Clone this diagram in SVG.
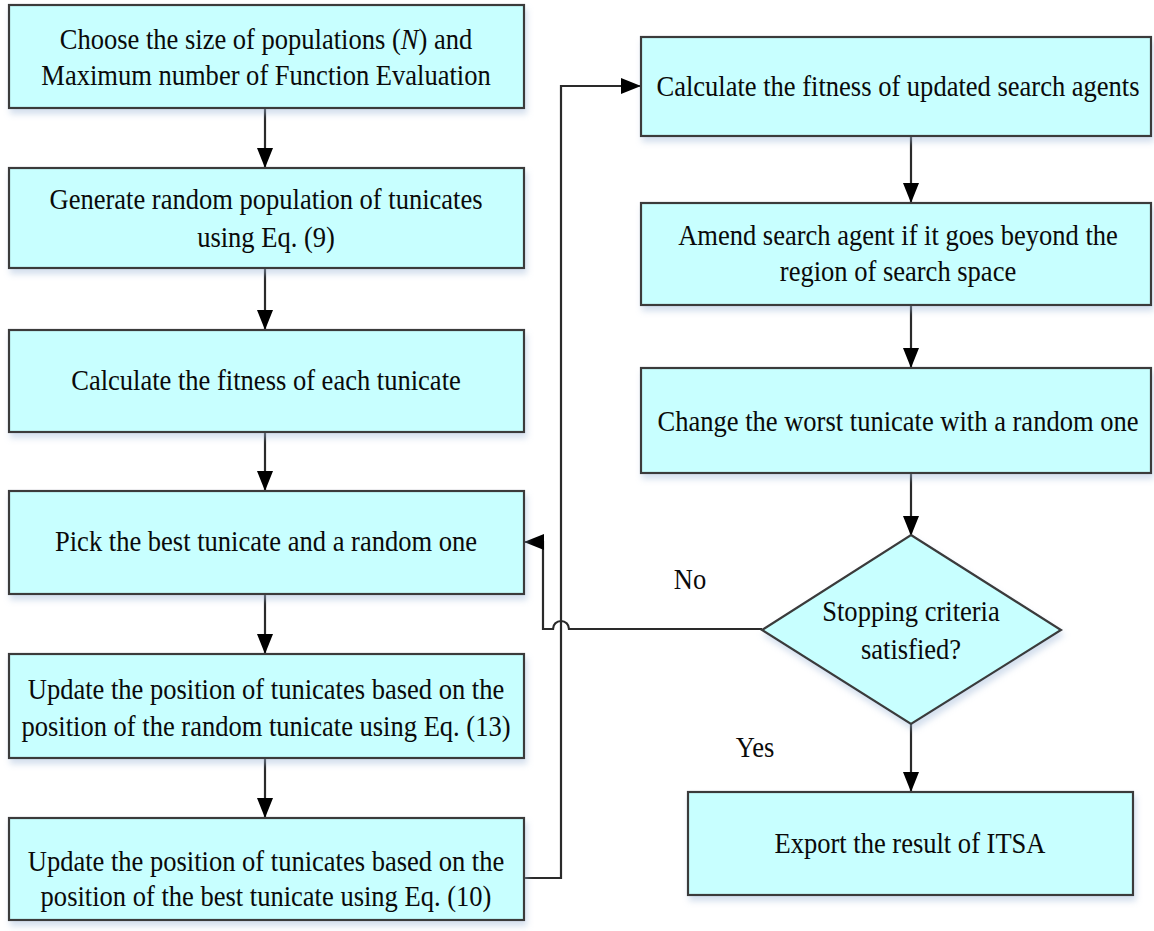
<svg xmlns="http://www.w3.org/2000/svg" width="1154" height="931" viewBox="0 0 1154 931">
<defs>
<style>
.box{fill:#C8FFFF;stroke:#3a3a3a;stroke-width:2.2;filter:url(#sh)}
.t{font-family:"Liberation Serif","Times New Roman",serif;font-size:29px;fill:#0a0a0a;text-anchor:middle}
.c{fill:none;stroke:#2a2a2a;stroke-width:2.2}
</style>
<filter id="sh" x="-5%" y="-5%" width="115%" height="125%">
<feDropShadow dx="2" dy="5" stdDeviation="3" flood-color="#9fb8d8" flood-opacity="0.45"/>
</filter>
<marker id="ah" markerUnits="userSpaceOnUse" markerWidth="20" markerHeight="16" viewBox="0 0 20 16" refX="19" refY="8" orient="auto">
<path d="M0,0 L20,8 L0,16 Z" fill="#000"/>
</marker>
</defs>
<rect width="1154" height="931" fill="#fff"/>
<g id="connectors">
<path class="c" d="M265,108 V167" marker-end="url(#ah)"/>
<path class="c" d="M265,268 V329" marker-end="url(#ah)"/>
<path class="c" d="M265,432 V490" marker-end="url(#ah)"/>
<path class="c" d="M265,594 V653" marker-end="url(#ah)"/>
<path class="c" d="M265,758 V817" marker-end="url(#ah)"/>
<path class="c" d="M911,136 V202" marker-end="url(#ah)"/>
<path class="c" d="M911,305 V367" marker-end="url(#ah)"/>
<path class="c" d="M911,473 V535" marker-end="url(#ah)"/>
<path class="c" d="M911,724 V791" marker-end="url(#ah)"/>
<path class="c" d="M524,878 H561 V86 H640" marker-end="url(#ah)"/>
<path class="c" d="M762,629 H569 A8,8 0 0 0 553,629 H543 V542 H525" marker-end="url(#ah)"/>
</g>
<g id="n1"><rect class="box" x="9" y="5" width="515" height="103"/>
<text class="t" transform="translate(266,49) scale(0.915,1)">Choose the size of populations (<tspan font-style="italic">N</tspan>) and</text>
<text class="t" transform="translate(266,85) scale(0.915,1)">Maximum number of Function Evaluation</text></g>
<g id="n2"><rect class="box" x="9" y="168" width="515" height="100"/>
<text class="t" transform="translate(266,209) scale(0.915,1)">Generate random population of tunicates</text>
<text class="t" transform="translate(266,247) scale(0.915,1)">using Eq. (9)</text></g>
<g id="n3"><rect class="box" x="9" y="330" width="515" height="102"/>
<text class="t" transform="translate(266,390) scale(0.915,1)">Calculate the fitness of each tunicate</text></g>
<g id="n4"><rect class="box" x="9" y="491" width="515" height="103"/>
<text class="t" transform="translate(266,551) scale(0.915,1)">Pick the best tunicate and a random one</text></g>
<g id="n5"><rect class="box" x="9" y="654" width="515" height="104"/>
<text class="t" transform="translate(266,699) scale(0.915,1)">Update the position of tunicates based on the</text>
<text class="t" transform="translate(266,736) scale(0.915,1)">position of the random tunicate using Eq. (13)</text></g>
<g id="n6"><rect class="box" x="9" y="818" width="515" height="102"/>
<text class="t" transform="translate(266,871) scale(0.915,1)">Update the position of tunicates based on the</text>
<text class="t" transform="translate(266,906) scale(0.915,1)">position of the best tunicate using Eq. (10)</text></g>
<g id="r1"><rect class="box" x="641" y="37" width="510" height="99"/>
<text class="t" transform="translate(898,96) scale(0.915,1)">Calculate the fitness of updated search agents</text></g>
<g id="r2"><rect class="box" x="641" y="203" width="510" height="102"/>
<text class="t" transform="translate(898,245) scale(0.915,1)">Amend search agent if it goes beyond the</text>
<text class="t" transform="translate(898,281) scale(0.915,1)">region of search space</text></g>
<g id="r3"><rect class="box" x="641" y="368" width="510" height="105"/>
<text class="t" transform="translate(898,431) scale(0.915,1)">Change the worst tunicate with a random one</text></g>
<g id="d1"><polygon class="box" points="911,535 1061,630 911,724 762,630"/>
<text class="t" transform="translate(911,621) scale(0.915,1)">Stopping criteria</text>
<text class="t" transform="translate(911,659) scale(0.915,1)">satisfied?</text></g>
<g id="r4"><rect class="box" x="688" y="792" width="445" height="103"/>
<text class="t" transform="translate(910,853) scale(0.915,1)">Export the result of ITSA</text></g>
<g id="labels">
<text class="t" transform="translate(690,589) scale(0.915,1)">No</text>
<text class="t" transform="translate(755,757) scale(0.915,1)">Yes</text>
</g>
</svg>
